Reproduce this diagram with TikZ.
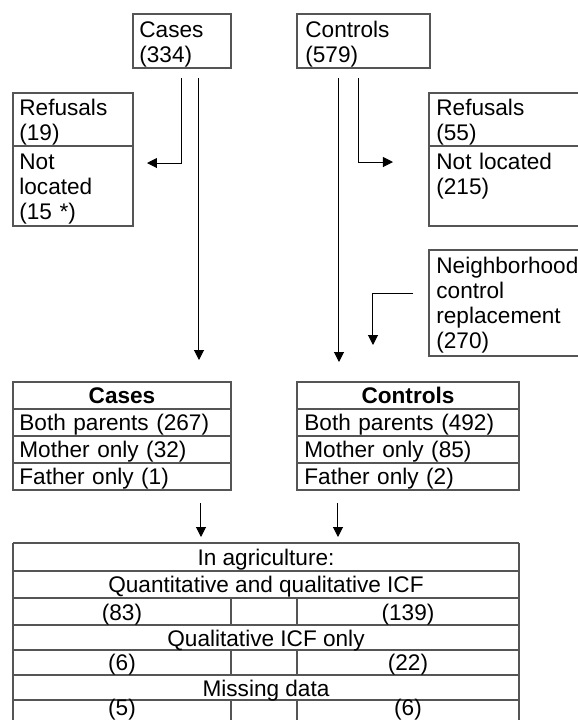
\documentclass[tikz,border=0pt]{standalone}
\usepackage{fontspec}
\setmainfont{Liberation Sans}
\usepackage{xcolor}
\usetikzlibrary{arrows.meta}
\definecolor{framegray}{HTML}{555555}

\begin{document}
\begin{tikzpicture}[x=0.5pt, y=-0.5pt, >={Triangle[length=5pt,width=5pt]},
    frame/.style={draw=framegray, line width=0.6pt},
    txt/.style={anchor=base west, inner sep=0pt, text width=#1, align=left, font=\fontsize{11.3}{12.5}\selectfont},
    mid/.style={anchor=base, inner sep=0pt, font=\fontsize{11.3}{12.5}\selectfont}]
    \useasboundingbox (0,0) rectangle (578,720);
    \clip (0,0) rectangle (578,720);

    % top boxes
    \draw [frame] (133,14) rectangle (231,68);
    \node [txt=45pt] (cases) at (139,37) {Cases\\(334)};
    \draw [frame] (297,14) rectangle (430,68);
    \node [txt=62pt] (controls) at (305,37) {Controls\\(579)};

    % excluded
    \draw [frame] (13,93) rectangle (133,226);
    \draw [frame] (13,146) -- (133,146);
    \node [txt=56pt] (refcases) at (19,115) {Refusals\\(19)};
    \node [txt=56pt] (nlcases) at (19,169) {Not\\located\\(15 *)};
    \draw [frame] (429,93) rectangle (600,226);
    \draw [frame] (429,146) -- (600,146);
    \node [txt=75pt] (refctrl) at (436,115) {Refusals\\(55)};
    \node [txt=75pt] (nlctrl) at (436,169) {Not located\\(215)};
    \draw [frame] (429,250) rectangle (600,356);
    \node [txt=80pt] (nbr) at (436,273) {Neighborhood\\control\\replacement\\(270)};

    % participants
    \draw [frame] (13,382) rectangle (231,490);
    \draw [frame] (297,382) rectangle (519,490);
    \foreach \y in {409,436,463}
        \draw [frame] (13,\y) -- (231,\y) (297,\y) -- (519,\y);
    \node [mid] (casestab) at (122,403) {\bfseries Cases};
    \node [txt=105pt] (cboth) at (19,430) {Both parents (267)};
    \node [txt=105pt] (cmother) at (19,457) {Mother only (32)};
    \node [txt=105pt] (cfather) at (19,484) {Father only (1)};
    \node [mid] (ctrltab) at (408,403) {\bfseries Controls};
    \node [txt=105pt] (kboth) at (304,430) {Both parents (492)};
    \node [txt=105pt] (kmother) at (304,457) {Mother only (85)};
    \node [txt=105pt] (kfather) at (304,484) {Father only (2)};

    % agriculture table
    \draw [frame] (13,543) -- (13,730) (519,543) -- (519,730);
    \foreach \y in {543,571,598,625,650,675,700}
        \draw [frame] (13,\y) -- (519,\y);
    \foreach \a/\b in {598/625,650/675,700/730}
        \draw [frame] (231,\a) -- (231,\b) (297,\a) -- (297,\b);
    \node [mid] (agri) at (266,565) {In agriculture:};
    \node [mid] (quant) at (266,592) {Quantitative and qualitative ICF};
    \node [mid] (quantc) at (122,620) {(83)};
    \node [mid] (quantk) at (408,620) {(139)};
    \node [mid] (qual) at (266,646) {Qualitative ICF only};
    \node [mid] (qualc) at (122,670) {(6)};
    \node [mid] (qualk) at (408,670) {(22)};
    \node [mid] (miss) at (266,696) {Missing data};
    \node [mid] (missc) at (122,715) {(5)};
    \node [mid] (missk) at (408,715) {(6)};

    % connectors
    \coordinate (csplit) at (182,78);
    \coordinate (cout) at (147,163);
    \coordinate (cgo) at (199,78);
    \coordinate (cin) at (199,360);
    \coordinate (kgo) at (339,78);
    \coordinate (kin) at (339,362);
    \coordinate (ksplit) at (359,78);
    \coordinate (kout) at (393,162);
    \coordinate (nbrgo) at (413,293);
    \coordinate (nbrin) at (373,345);
    \coordinate (cdown) at (201,503);
    \coordinate (cagri) at (201,537);
    \coordinate (kdown) at (338,503);
    \coordinate (kagri) at (338,537);
    \draw [->, line width=0.5pt] (csplit) |- (cout);
    \draw [->, line width=0.5pt] (cgo) -- (cin);
    \draw [->, line width=0.5pt] (kgo) -- (kin);
    \draw [->, line width=0.5pt] (ksplit) |- (kout);
    \draw [->, line width=0.5pt] (nbrgo) -| (nbrin);
    \draw [->, line width=0.5pt] (cdown) -- (cagri);
    \draw [->, line width=0.5pt] (kdown) -- (kagri);
\end{tikzpicture}
\end{document}
